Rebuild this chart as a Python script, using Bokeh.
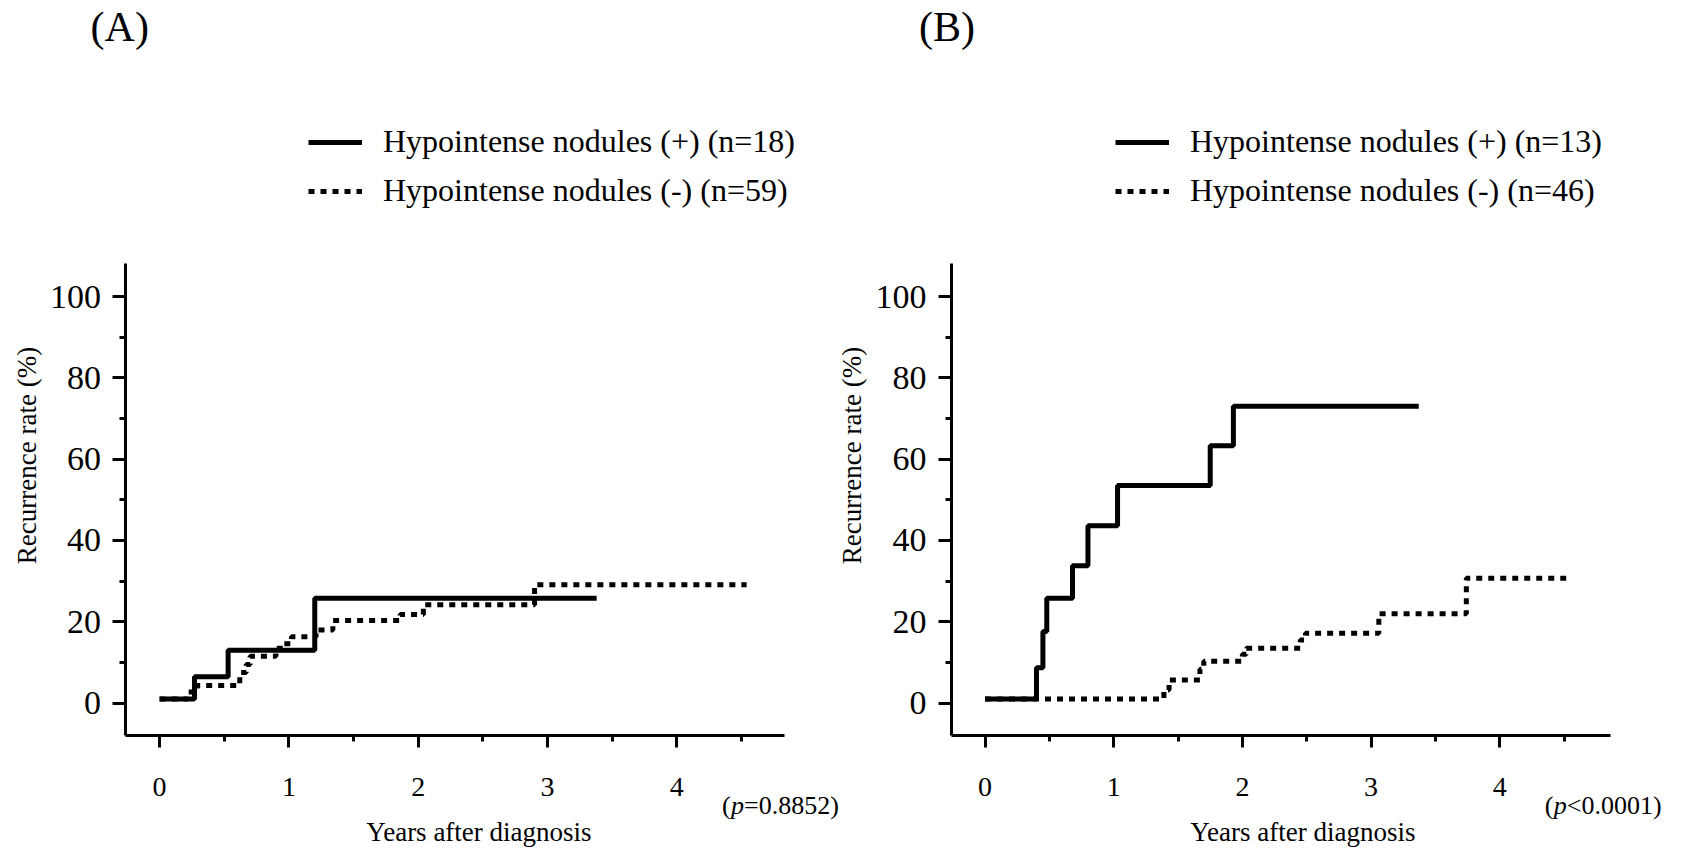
import math
from bokeh.plotting import figure
from bokeh.models import Range1d, FixedTicker, Label, Legend, LegendItem, LinearAxis
from bokeh.embed import file_html
from bokeh.resources import INLINE

FONT = "Liberation Serif"

# ---- data ----
year_ticks = [0, 1, 2, 3, 4]
year_minor = [0.5, 1.5, 2.5, 3.5, 4.5]
rate_ticks = [0, 20, 40, 60, 80, 100]
rate_minor = [10, 30, 50, 70, 90]

# Panel A
a_pos_years = [0, 0.27, 0.53, 1.20, 3.38]
a_pos_rate = [1, 6.5, 13.0, 25.8, 25.8]
a_neg_years = [0, 0.22, 0.29, 0.62, 0.67, 0.70, 0.90, 0.96, 1.02, 1.21, 1.34, 1.86, 2.04, 2.90, 4.54]
a_neg_rate = [1, 2.7, 4.3, 7.5, 9.5, 11.5, 13.5, 14.6, 16.3, 18.0, 20.3, 21.8, 24.2, 29.1, 29.1]
a_labels = ["Hypointense nodules (+) (n=18)", "Hypointense nodules (-) (n=59)"]
a_p = "=0.8852)"

# Panel B
b_pos_years = [0, 0.40, 0.45, 0.48, 0.68, 0.80, 1.03, 1.75, 1.93, 3.37]
b_pos_rate = [1, 8.7, 17.6, 25.8, 33.8, 43.6, 53.5, 63.3, 73.0, 73.0]
b_neg_years = [0, 1.39, 1.43, 1.67, 1.70, 2.00, 2.03, 2.45, 2.49, 3.06, 3.74, 4.55]
b_neg_rate = [1, 3.2, 5.7, 8.3, 10.3, 12.0, 13.5, 15.5, 17.2, 22.0, 30.7, 30.7]
b_labels = ["Hypointense nodules (+) (n=13)", "Hypointense nodules (-) (n=46)"]
b_p = "<0.0001)"

W, H = 1682, 852
Y_PX = 4.066        # px per % unit
Y_ZERO_PX = 702.6   # page y of 0 %
X_AXIS_AT = -7.97   # % value where the x axes sit
Y_AXIS_AT = -0.26   # year value where the y axes sit

# panel geometry: pixel of year 0, px per year, end of x axis (years), legend x
GEO = {
    "A": dict(x0=159.1, px=129.3, xend=4.83, leg_x=308, tag_dx=-69),
    "B": dict(x0=984.5, px=128.7, xend=4.86, leg_x=1115, tag_dx=-66),
}

ga, gb = GEO["A"], GEO["B"]
p = figure(width=W, height=H, output_backend="svg", toolbar_location=None,
           x_range=Range1d(-ga["x0"] / ga["px"], (W - ga["x0"]) / ga["px"]),
           y_range=Range1d(-(H - Y_ZERO_PX) / Y_PX, Y_ZERO_PX / Y_PX),
           min_border_left=0, min_border_right=0,
           min_border_top=0, min_border_bottom=0,
           outline_line_color=None, background_fill_color="white")
p.extra_x_ranges = {"b": Range1d(-gb["x0"] / gb["px"], (W - gb["x0"]) / gb["px"])}
p.xgrid.visible = False
p.ygrid.visible = False


def style_axes(xa, ya, xend):
    for ax in (xa, ya):
        ax.axis_line_width = 3
        ax.axis_line_color = "black"
        ax.major_tick_line_width = 3
        ax.minor_tick_line_width = 3
        ax.major_tick_line_color = "black"
        ax.minor_tick_line_color = "black"
        ax.major_tick_in = 0
        ax.minor_tick_in = 0
        ax.major_label_text_font = FONT
        ax.major_label_text_color = "black"
    xa.fixed_location = X_AXIS_AT
    xa.ticker = FixedTicker(ticks=year_ticks, minor_ticks=year_minor)
    xa.bounds = (Y_AXIS_AT, xend)
    xa.major_tick_out = 12
    xa.minor_tick_out = 6
    xa.major_label_standoff = 30
    xa.major_label_text_font_size = "28px"

    ya.fixed_location = Y_AXIS_AT
    ya.ticker = FixedTicker(ticks=rate_ticks, minor_ticks=rate_minor)
    ya.bounds = (X_AXIS_AT, 108.1)
    ya.major_tick_out = 13
    ya.minor_tick_out = 6
    ya.major_label_standoff = 12
    ya.major_label_text_font_size = "34px"


# axes of panel A (default ones), panel B (extra range "b")
style_axes(p.xaxis[0], p.yaxis[0], ga["xend"])
xb = LinearAxis(x_range_name="b")
yb = LinearAxis(x_range_name="b")
style_axes(xb, yb, gb["xend"])
p.add_layout(xb, "below")
p.add_layout(yb, "left")


def lab(**kw):
    base = dict(x_units="screen", y_units="screen", text_font=FONT,
                text_color="black", text_baseline="middle")
    base.update(kw)
    p.add_layout(Label(**base))


def panel(tag, g, pos_x, pos_y, neg_x, neg_y, labels, ptxt, rng):
    kw = {} if rng is None else {"x_range_name": rng}
    r1 = p.step(pos_x, pos_y, mode="after", line_color="black", line_width=5, **kw)
    r2 = p.step(neg_x, neg_y, mode="after", line_color="black", line_width=5,
                line_dash="6 6", **kw)
    leg = Legend(items=[LegendItem(label=labels[0], renderers=[r1]),
                        LegendItem(label=labels[1], renderers=[r2])],
                 location=(g["leg_x"], H - 209),
                 orientation="vertical", padding=0, margin=0, spacing=12,
                 glyph_width=54, glyph_height=36, label_height=36,
                 label_standoff=21, border_line_color=None,
                 background_fill_alpha=0,
                 label_text_font=FONT, label_text_font_size="32px",
                 label_text_color="black")
    p.add_layout(leg)

    x0, xpx = g["x0"], g["px"]
    lab(x=x0 + g["tag_dx"], y=H - 26, text=tag, text_font_size="42px",
        text_align="left")
    lab(x=x0 - 133, y=H - 455, text="Recurrence rate (%)", angle=math.pi / 2,
        text_font_size="27px", text_align="center")
    lab(x=x0 + 2.47 * xpx, y=H - 831, text="Years after diagnosis",
        text_font_size="27px", text_align="center")
    px0 = x0 + 4.35 * xpx
    py = H - 805
    lab(x=px0, y=py, text="(", text_font_size="26px", text_align="left")
    lab(x=px0 + 9, y=py, text="p", text_font_size="26px", text_font_style="italic",
        text_align="left")
    lab(x=px0 + 22, y=py, text=ptxt, text_font_size="26px", text_align="left")


panel("(A)", ga, a_pos_years, a_pos_rate, a_neg_years, a_neg_rate, a_labels, a_p, None)
panel("(B)", gb, b_pos_years, b_pos_rate, b_neg_years, b_neg_rate, b_labels, b_p, "b")

open("out.html", "w").write(file_html(p, INLINE))
